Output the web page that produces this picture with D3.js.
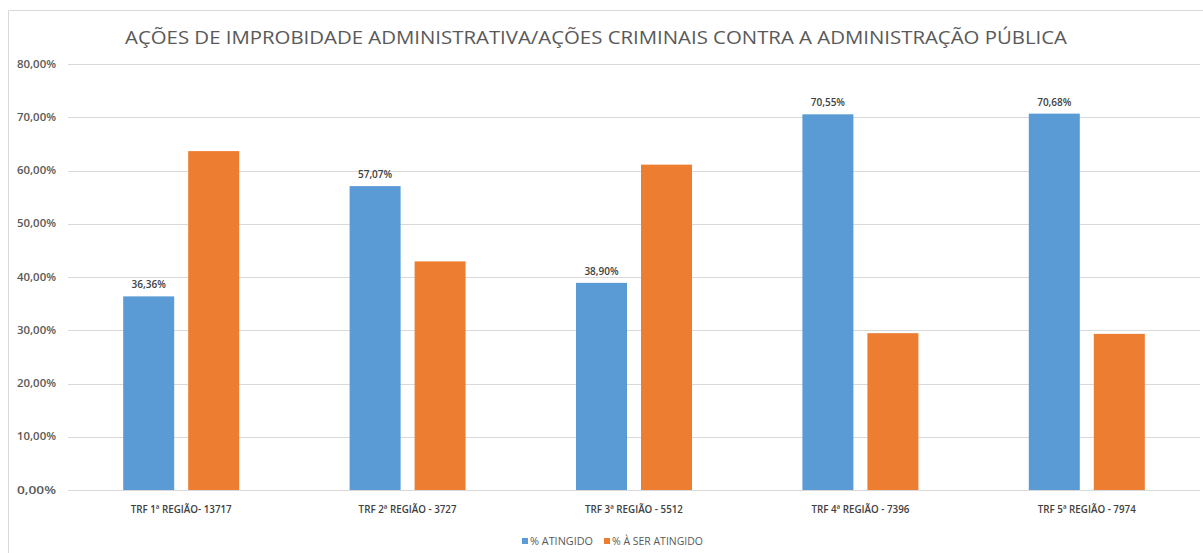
<!DOCTYPE html>
<html>
<head>
<meta charset="utf-8">
<script src="https://cdn.jsdelivr.net/npm/d3@7"></script>
<style>
  body { margin: 0; background: #fff; }
  svg { display: block; }
</style>
</head>
<body>
<svg id="chart" width="1203" height="553"></svg>
<script>
const categories = ['TRF 1ª REGIÃO- 13717', 'TRF 2ª REGIÃO - 3727', 'TRF 3ª REGIÃO - 5512', 'TRF 4ª REGIÃO - 7396', 'TRF 5ª REGIÃO - 7974']
const atingido = [36.36, 57.07, 38.90, 70.55, 70.68]
const aSerAtingido = [63.64, 42.93, 61.10, 29.45, 29.32]
const seriesNames = ['% ATINGIDO', '% À SER ATINGIDO']
const yTicks = [0, 10, 20, 30, 40, 50, 60, 70, 80]

const colors = ['#5B9BD5', '#ED7D31']
const fmt = v => v.toFixed(2).replace('.', ',') + '%'

const svg = d3.select('#chart')
const font = "'Open Sans', sans-serif"

// chart frame
svg.append('path')
  .attr('d', 'M8.5,553 L8.5,10.5 L1203,10.5')
  .attr('fill', 'none')
  .attr('stroke', '#d9d9d9')
  .attr('stroke-width', 1)

const margin = { left: 68, right: 1200, top: 64, bottom: 490 }

const x = d3.scaleBand()
  .domain(categories)
  .range([margin.left, margin.right])
  .paddingInner(0)
  .paddingOuter(0)

const y = d3.scaleLinear()
  .domain([0, 80])
  .range([margin.bottom, margin.top])

const barW = 51
const barGap = 14

// gridlines
svg.append('g')
  .selectAll('line')
  .data(yTicks)
  .join('line')
  .attr('x1', margin.left)
  .attr('x2', margin.right)
  .attr('y1', d => Math.round(y(d)) + 0.5)
  .attr('y2', d => Math.round(y(d)) + 0.5)
  .attr('stroke', '#d9d9d9')
  .attr('stroke-width', 1)

// y tick labels
svg.append('g')
  .selectAll('text')
  .data(yTicks)
  .join('text')
  .attr('x', 56)
  .attr('y', d => y(d))
  .attr('dy', '0.35em')
  .attr('text-anchor', 'end')
  .attr('font-family', font)
  .attr('font-size', 10.5)
  .attr('font-weight', 600)
  .attr('fill', '#595959')
  .attr('textLength', 39)
  .attr('lengthAdjust', 'spacingAndGlyphs')
  .text(d => d.toFixed(2).replace('.', ',') + '%')

const series = [atingido, aSerAtingido]

series.forEach((vals, si) => {
  svg.append('g')
    .selectAll('rect')
    .data(vals)
    .join('rect')
    .attr('x', (d, i) => x(categories[i]) + x.bandwidth() / 2 - barW - barGap / 2 + si * (barW + barGap))
    .attr('y', d => y(d))
    .attr('width', barW)
    .attr('height', d => y(0) - y(d))
    .attr('fill', colors[si])
})

// value labels (first series only)
svg.append('g')
  .selectAll('text')
  .data(atingido)
  .join('text')
  .attr('x', (d, i) => x(categories[i]) + x.bandwidth() / 2 - barGap / 2 - barW / 2)
  .attr('y', d => y(d) - 8)
  .attr('text-anchor', 'middle')
  .attr('font-family', font)
  .attr('font-size', 10)
  .attr('font-weight', 600)
  .attr('fill', '#404040')
  .text(d => fmt(d))

// x category labels
svg.append('g')
  .selectAll('text')
  .data(categories)
  .join('text')
  .attr('x', d => x(d) + x.bandwidth() / 2)
  .attr('y', 513)
  .attr('text-anchor', 'middle')
  .attr('font-family', font)
  .attr('font-size', 9.8)
  .attr('font-weight', 600)
  .attr('fill', '#404040')
  .text(d => d)

// title
svg.append('text')
  .attr('x', 596)
  .attr('y', 44)
  .attr('text-anchor', 'middle')
  .attr('font-family', font)
  .attr('font-size', 19)
  .attr('fill', '#595959')
  .attr('textLength', 942)
  .attr('lengthAdjust', 'spacingAndGlyphs')
  .text('AÇÕES DE IMPROBIDADE ADMINISTRATIVA/AÇÕES CRIMINAIS CONTRA A ADMINISTRAÇÃO PÚBLICA')

// legend
const legendX = [522, 604]
const legendW = [63, 91]
const legend = svg.append('g')
seriesNames.forEach((name, i) => {
  legend.append('rect')
    .attr('x', legendX[i])
    .attr('y', 538)
    .attr('width', 6)
    .attr('height', 6)
    .attr('fill', colors[i])
  legend.append('text')
    .attr('x', legendX[i] + 8)
    .attr('y', 541)
    .attr('dy', '0.35em')
    .attr('font-family', font)
    .attr('font-size', 10.5)
    .attr('fill', '#595959')
    .attr('textLength', legendW[i])
    .attr('lengthAdjust', 'spacingAndGlyphs')
    .text(name)
})
</script>
</body>
</html>
